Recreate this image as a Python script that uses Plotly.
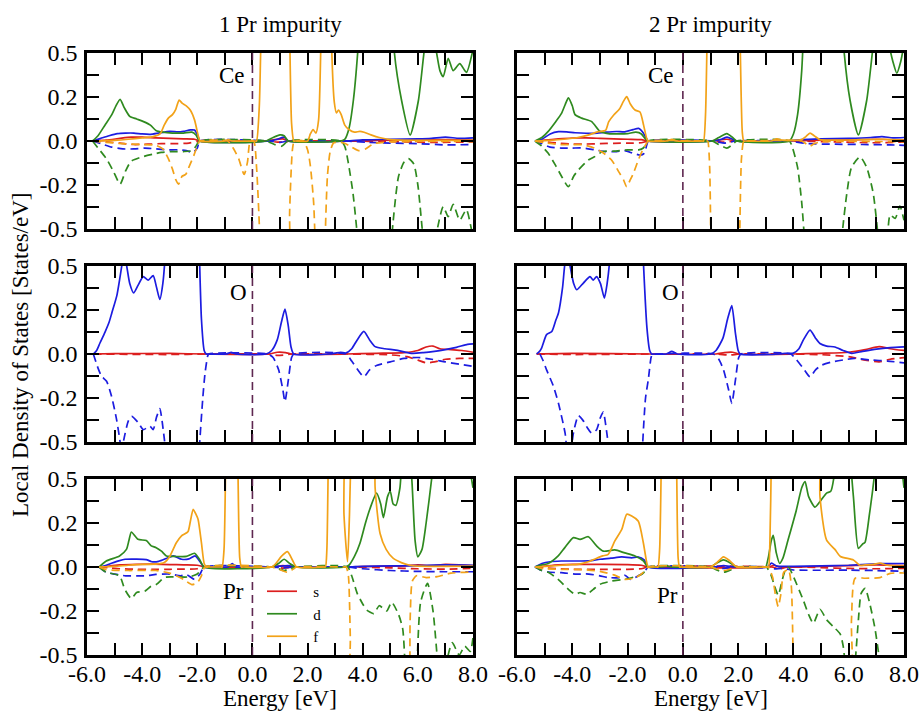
import plotly.graph_objects as go

# ---------------- data: (energy [eV], LDOS [states/eV]) ----------------
# Panel A: Ce, 1 Pr impurity
A_s_up = [(-5.8,0),(-5.3,0.005),(-4.8,0.015),(-4.4,0.022),(-4.0,0.022),(-3.5,0.018),(-3.0,0.015),(-2.5,0.012),(-2.1,0.01),(-1.9,0),(0.5,0),(0.8,0.008),(1.1,0.012),(1.3,0),(3.5,0),(4.5,0.004),(6,0.005),(7,0.008),(8,0.005)]
A_s_dn = [(-5.8,0),(-5.3,-0.005),(-4.8,-0.012),(-4.3,-0.02),(-3.8,-0.018),(-3.3,-0.015),(-2.8,-0.015),(-2.3,-0.012),(-1.9,0),(0.5,0),(0.9,-0.006),(1.2,-0.005),(1.35,0),(3.5,0),(5,-0.004),(6.5,-0.008),(8,-0.005)]
A_p_up = [(-5.8,0),(-5.5,0.015),(-5.2,0.03),(-4.9,0.042),(-4.6,0.045),(-4.3,0.045),(-4.0,0.04),(-3.7,0.038),(-3.4,0.045),(-3.0,0.055),(-2.7,0.052),(-2.5,0.055),(-2.25,0.063),(-2.1,0.062),(-1.98,0.03),(-1.9,0),(0.6,0),(0.9,0.01),(1.15,0.022),(1.3,0),(3.4,0),(4.0,0.006),(5.0,0.01),(6.0,0.012),(6.5,0.015),(7.0,0.022),(7.5,0.015),(8.0,0.018)]
A_p_dn = [(-5.8,0),(-5.5,-0.015),(-5.1,-0.035),(-4.7,-0.045),(-4.3,-0.045),(-3.9,-0.04),(-3.5,-0.045),(-3.1,-0.05),(-2.7,-0.05),(-2.4,-0.055),(-2.15,-0.065),(-2.0,-0.04),(-1.9,0),(0.6,0),(1.0,-0.008),(1.3,0),(3.4,0),(4.2,-0.008),(5.0,-0.012),(6.0,-0.015),(7.0,-0.022),(8.0,-0.02)]
A_d_up = [(-5.8,0),(-5.6,0.03),(-5.35,0.09),(-5.1,0.15),(-4.95,0.2),(-4.8,0.237),(-4.65,0.19),(-4.45,0.14),(-4.2,0.125),(-3.95,0.11),(-3.7,0.09),(-3.5,0.06),(-3.25,0.05),(-2.9,0.045),(-2.5,0.045),(-2.2,0.05),(-2.05,0.035),(-1.92,0),(0.5,0),(0.75,0.02),(1.0,0.035),(1.15,0.03),(1.3,0),(3.2,0),(3.35,0.01),(3.5,0.07),(3.66,0.23),(3.84,0.55),(4.0,1.0),(5.0,1.0),(5.15,0.5),(5.41,0.23),(5.72,0.034),(6.02,0.23),(6.26,0.55),(6.45,0.7),(6.68,0.5),(6.8,0.4),(6.92,0.365),(7.1,0.47),(7.28,0.40),(7.52,0.44),(7.76,0.39),(8.0,0.52)]
A_d_dn = [(-5.8,0),(-5.6,-0.04),(-5.3,-0.1),(-5.05,-0.17),(-4.8,-0.245),(-4.6,-0.17),(-4.4,-0.115),(-4.0,-0.09),(-3.6,-0.075),(-3.3,-0.065),(-2.9,-0.06),(-2.5,-0.06),(-2.2,-0.055),(-2.05,-0.03),(-1.92,0),(0.5,0),(0.8,-0.02),(1.05,-0.03),(1.3,0),(3.2,0),(3.35,-0.03),(3.48,-0.127),(3.65,-0.3),(3.84,-0.6),(4.0,-1.0),(4.9,-1.0),(5.05,-0.55),(5.3,-0.2),(5.5,-0.12),(5.66,-0.1),(5.85,-0.13),(6.0,-0.25),(6.19,-0.55),(6.4,-0.8),(6.68,-0.52),(6.92,-0.373),(7.1,-0.43),(7.28,-0.36),(7.52,-0.45),(7.76,-0.39),(7.94,-0.5),(8.0,-0.55)]
A_f_up = [(-5.8,0),(-5.0,0.004),(-4.5,0.01),(-4.0,0.018),(-3.6,0.025),(-3.35,0.04),(-3.2,0.09),(-3.05,0.13),(-2.9,0.15),(-2.78,0.18),(-2.66,0.233),(-2.55,0.215),(-2.4,0.2),(-2.25,0.175),(-2.1,0.12),(-1.95,0.02),(-1.9,0),(-1.0,0),(-0.87,0.008),(-0.75,0),(0.1,0),(0.15,0),(0.25,0.2),(0.35,0.9),(0.5,1.5),(1.2,1.5),(1.33,0.8),(1.42,0.1),(1.5,0),(1.55,0),(2.0,0),(2.1,0.04),(2.2,0.065),(2.3,0.045),(2.4,0.12),(2.5,0.7),(2.6,1.5),(2.78,1.5),(2.88,0.5),(2.97,0.22),(3.05,0.16),(3.12,0.175),(3.22,0.15),(3.35,0.09),(3.5,0.065),(3.7,0.05),(3.9,0.055),(4.05,0.05),(4.3,0.035),(4.6,0.02),(5.0,0.008),(6,0.004),(8,0.003)]
A_f_dn = [(-5.8,0),(-5.3,-0.008),(-4.7,-0.015),(-4.0,-0.02),(-3.5,-0.025),(-3.25,-0.045),(-3.05,-0.1),(-2.9,-0.16),(-2.78,-0.22),(-2.68,-0.245),(-2.55,-0.2),(-2.42,-0.19),(-2.28,-0.14),(-2.12,-0.08),(-1.95,-0.01),(-1.9,0),(-0.9,0),(-0.7,-0.04),(-0.5,-0.1),(-0.3,-0.19),(-0.18,-0.12),(-0.08,0),(0.05,0),(0.15,-0.15),(0.28,-0.6),(0.4,-1.5),(1.25,-1.5),(1.35,-0.4),(1.45,-0.05),(1.52,0),(1.85,0),(2.0,-0.05),(2.1,-0.14),(2.22,-0.35),(2.3,-0.7),(2.4,-1.2),(2.55,-1.2),(2.63,-0.6),(2.72,-0.2),(2.82,-0.06),(2.95,-0.01),(3.3,-0.01),(3.6,-0.035),(3.85,-0.055),(4.1,-0.045),(4.4,-0.015),(5,-0.005),(8,-0.003)]

# Panel B: Ce, 2 Pr impurity
B_s_up = [(-5.35,0),(-5.0,0.005),(-4.5,0.012),(-4.0,0.017),(-3.5,0.018),(-3.0,0.015),(-2.5,0.012),(-2.0,0.01),(-1.5,0.008),(-1.25,0),(1.0,0),(1.3,0.006),(1.6,0.01),(1.9,0),(4.0,0),(5,0.005),(6,0.006),(7,0.01),(8,0.006)]
B_s_dn = [(-5.35,0),(-5.0,-0.005),(-4.5,-0.012),(-4.0,-0.017),(-3.5,-0.017),(-3.0,-0.015),(-2.5,-0.013),(-2.0,-0.012),(-1.5,-0.01),(-1.25,0),(1.0,0),(1.5,-0.006),(1.9,0),(4.0,0),(5.5,-0.005),(7,-0.01),(8,-0.006)]
B_p_up = [(-5.35,0),(-5.1,0.01),(-4.8,0.04),(-4.5,0.053),(-4.2,0.052),(-3.9,0.047),(-3.5,0.044),(-3.1,0.045),(-2.8,0.05),(-2.4,0.054),(-2.1,0.052),(-1.8,0.065),(-1.6,0.072),(-1.45,0.05),(-1.3,0.01),(-1.25,0),(1.1,0),(1.4,0.01),(1.6,0.022),(1.8,0.01),(1.95,0),(3.8,0),(4.3,0.008),(5,0.012),(6,0.015),(6.8,0.02),(7.2,0.025),(7.6,0.018),(8.0,0.02)]
B_p_dn = [(-5.35,0),(-5.1,-0.015),(-4.8,-0.035),(-4.4,-0.04),(-4.0,-0.04),(-3.6,-0.04),(-3.2,-0.05),(-2.8,-0.06),(-2.4,-0.06),(-2.1,-0.055),(-1.8,-0.07),(-1.55,-0.08),(-1.4,-0.07),(-1.3,-0.02),(-1.25,0),(1.1,0),(1.5,-0.012),(1.9,0),(3.8,0),(4.5,-0.015),(5.5,-0.018),(6.5,-0.02),(7.5,-0.022),(8,-0.025)]
B_d_up = [(-5.35,0),(-5.1,0.02),(-4.87,0.055),(-4.6,0.11),(-4.39,0.157),(-4.25,0.21),(-4.14,0.245),(-4.0,0.2),(-3.9,0.15),(-3.66,0.13),(-3.3,0.11),(-3.0,0.055),(-2.7,0.042),(-2.3,0.04),(-2.0,0.042),(-1.7,0.05),(-1.5,0.04),(-1.35,0.01),(-1.25,0),(1.05,0),(1.3,0.02),(1.59,0.042),(1.8,0.02),(1.95,0),(3.85,0),(4.0,0.04),(4.15,0.15),(4.3,0.4),(4.42,0.8),(4.6,1.2),(5.6,1.2),(5.81,0.55),(6.05,0.23),(6.35,0.035),(6.65,0.23),(6.89,0.55),(7.1,0.8),(7.45,0.55),(7.6,0.45),(7.74,0.385),(7.88,0.45),(8.0,0.55)]
B_d_dn = [(-5.35,0),(-5.1,-0.03),(-4.87,-0.07),(-4.6,-0.14),(-4.39,-0.2),(-4.14,-0.26),(-3.95,-0.2),(-3.78,-0.165),(-3.42,-0.108),(-3.2,-0.09),(-2.9,-0.06),(-2.5,-0.058),(-2.0,-0.05),(-1.6,-0.05),(-1.43,-0.04),(-1.25,0),(1.05,0),(1.3,-0.02),(1.59,-0.04),(1.8,-0.02),(1.95,0),(3.85,0),(3.97,-0.04),(4.15,-0.15),(4.3,-0.35),(4.42,-0.6),(4.6,-1.0),(5.55,-1.0),(5.75,-0.55),(5.93,-0.3),(6.1,-0.15),(6.41,-0.09),(6.65,-0.15),(6.89,-0.3),(7.07,-0.55),(7.25,-0.8),(7.4,-0.55),(7.5,-0.42),(7.68,-0.44),(7.85,-0.37),(8.0,-0.45)]
B_f_up = [(-5.35,0),(-4.8,0.004),(-4.3,0.01),(-3.8,0.02),(-3.4,0.035),(-3.06,0.053),(-2.8,0.06),(-2.68,0.11),(-2.5,0.148),(-2.3,0.18),(-2.15,0.225),(-2.03,0.252),(-1.9,0.21),(-1.73,0.176),(-1.55,0.165),(-1.42,0.09),(-1.3,0.01),(-1.25,0),(-0.6,0),(-0.4,0.01),(-0.25,0),(0.7,0),(0.75,0),(0.82,0.15),(0.9,0.8),(1.0,1.5),(2.0,1.5),(2.08,0.5),(2.15,0.05),(2.2,0),(2.25,0),(3.2,0),(3.4,0.012),(3.6,0.005),(4.3,0.008),(4.45,0.025),(4.6,0.045),(4.75,0.03),(4.95,0.008),(5.5,0.005),(6.5,0.008),(7.2,0.01),(8,0.005)]
B_f_dn = [(-5.35,0),(-5.0,-0.01),(-4.5,-0.02),(-4.0,-0.02),(-3.6,-0.022),(-3.2,-0.04),(-2.9,-0.065),(-2.58,-0.108),(-2.3,-0.18),(-2.15,-0.22),(-2.03,-0.26),(-1.9,-0.22),(-1.78,-0.18),(-1.61,-0.108),(-1.45,-0.05),(-1.3,-0.01),(-1.25,0),(0.85,0),(0.9,0),(0.97,-0.15),(1.02,-0.7),(1.1,-1.5),(1.95,-1.5),(2.05,-0.6),(2.12,-0.1),(2.2,0),(2.25,0),(4.3,0),(4.45,-0.015),(4.6,-0.03),(4.75,-0.015),(5.0,-0.005),(8,-0.004)]

# Panel C: O, 1 Pr impurity
C_s_up = [(-5.77,0),(-5,0.002),(-3,0.003),(-1.7,0),(0.6,0),(0.9,0.01),(1.2,0.008),(1.4,0),(3.4,0),(4.5,0.004),(5.5,0.008),(6.0,0.02),(6.3,0.04),(6.55,0.045),(6.8,0.03),(7.2,0.025),(7.6,0.02),(8.0,0.01)]
C_s_dn = [(-5.77,0),(-3,-0.003),(-1.7,0),(0.6,0),(0.9,-0.008),(1.2,-0.005),(1.4,0),(3.4,0),(5.0,-0.005),(5.6,-0.015),(6.0,-0.035),(6.3,-0.05),(6.6,-0.045),(7.0,-0.03),(7.5,-0.025),(8.0,-0.025)]
C_p_up = [(-5.77,0),(-5.65,0.02),(-5.53,0.0625),(-5.35,0.123),(-5.2,0.18),(-5.1,0.233),(-4.92,0.33),(-4.8,0.44),(-4.74,0.5),(-4.66,0.58),(-4.56,0.5),(-4.45,0.4),(-4.31,0.347),(-4.15,0.39),(-3.96,0.44),(-3.78,0.42),(-3.6,0.445),(-3.48,0.38),(-3.36,0.31),(-3.25,0.4),(-3.15,0.6),(-3.0,1.2),(-2.1,1.2),(-1.95,0.7),(-1.85,0.2),(-1.75,0.02),(-1.68,0),(-1.6,0),(-0.95,0),(-0.77,0.01),(-0.6,0),(0.5,0),(0.7,0.02),(0.9,0.08),(1.05,0.18),(1.18,0.255),(1.3,0.16),(1.4,0.04),(1.5,0),(2.8,0),(3.0,0.005),(3.2,0.01),(3.38,0.005),(3.6,0.03),(3.8,0.08),(4.04,0.128),(4.25,0.08),(4.45,0.042),(4.8,0.03),(5.2,0.022),(5.5,0.012),(5.8,0.004),(6.2,0.008),(6.6,0.015),(7.0,0.025),(7.4,0.038),(7.8,0.055),(8.0,0.058)]
C_p_dn = [(-5.77,0),(-5.6,-0.08),(-5.47,-0.127),(-5.29,-0.155),(-5.11,-0.24),(-4.93,-0.37),(-4.8,-0.5),(-4.74,-0.6),(-4.68,-0.5),(-4.5,-0.38),(-4.38,-0.354),(-4.14,-0.39),(-3.96,-0.43),(-3.72,-0.41),(-3.6,-0.43),(-3.48,-0.36),(-3.36,-0.31),(-3.22,-0.45),(-3.12,-0.6),(-2.9,-1.2),(-2.1,-1.2),(-1.95,-0.6),(-1.8,-0.25),(-1.72,-0.11),(-1.62,-0.01),(-1.58,0),(0.55,0),(0.75,-0.02),(0.95,-0.09),(1.1,-0.2),(1.18,-0.27),(1.3,-0.15),(1.42,-0.02),(1.5,0),(3.38,0),(3.6,-0.04),(3.8,-0.085),(4.04,-0.129),(4.25,-0.09),(4.5,-0.065),(5.0,-0.045),(5.5,-0.025),(6.0,-0.02),(6.5,-0.03),(7.0,-0.045),(7.5,-0.058),(8.0,-0.07)]

# Panel D: O, 2 Pr impurity
D_s_up = [(-5.29,0),(-4,0.003),(-1.2,0),(1.2,0),(1.5,0.008),(1.8,0.01),(2.05,0),(4.0,0),(5.0,0.004),(6.0,0.01),(6.6,0.025),(7.1,0.042),(7.5,0.03),(8.0,0.02)]
D_s_dn = [(-5.29,0),(-4,-0.003),(-1.2,0),(1.2,0),(1.7,-0.006),(2.05,0),(4.0,0),(5.0,-0.004),(6.0,-0.015),(6.6,-0.035),(7.1,-0.045),(7.5,-0.03),(8.0,-0.02)]
D_p_up = [(-5.29,0),(-5.2,0.012),(-5.11,0.034),(-4.93,0.11),(-4.74,0.128),(-4.6,0.19),(-4.5,0.233),(-4.35,0.38),(-4.26,0.52),(-4.17,0.56),(-4.08,0.5),(-3.95,0.4),(-3.84,0.365),(-3.6,0.403),(-3.36,0.44),(-3.24,0.42),(-3.12,0.44),(-2.98,0.4),(-2.84,0.318),(-2.74,0.4),(-2.64,0.55),(-2.5,1.2),(-1.6,1.2),(-1.45,0.6),(-1.3,0.15),(-1.2,0.02),(-1.13,0),(-1.05,0),(-0.6,0),(-0.4,0.015),(-0.2,0),(1.0,0),(1.2,0.02),(1.45,0.09),(1.62,0.2),(1.77,0.275),(1.9,0.12),(2.0,0.02),(2.07,0),(3.5,0),(3.7,0.004),(4.0,0.005),(4.2,0.03),(4.36,0.08),(4.6,0.136),(4.8,0.09),(4.96,0.06),(5.2,0.045),(5.5,0.04),(5.8,0.02),(6.11,0.004),(6.5,0.015),(7.0,0.028),(7.5,0.036),(8.0,0.04)]
D_p_dn = [(-5.17,0),(-5.05,-0.04),(-4.93,-0.09),(-4.69,-0.18),(-4.5,-0.28),(-4.26,-0.45),(-4.15,-0.6),(-4.05,-0.55),(-3.96,-0.45),(-3.78,-0.35),(-3.6,-0.38),(-3.45,-0.42),(-3.3,-0.45),(-3.12,-0.43),(-2.98,-0.36),(-2.88,-0.33),(-2.75,-0.45),(-2.64,-0.6),(-2.5,-1.2),(-1.6,-1.2),(-1.45,-0.5),(-1.35,-0.25),(-1.25,-0.146),(-1.15,-0.02),(-1.1,0),(-1.0,0),(1.1,0),(1.3,-0.03),(1.47,-0.09),(1.65,-0.2),(1.77,-0.28),(1.9,-0.15),(2.02,-0.02),(2.1,0),(3.9,0),(4.1,-0.03),(4.35,-0.08),(4.6,-0.13),(4.8,-0.09),(5.0,-0.065),(5.4,-0.045),(5.8,-0.034),(6.2,-0.025),(6.8,-0.034),(7.4,-0.04),(8.0,-0.05)]

# Panel E: Pr, 1 Pr impurity
E_s_up = [(-5.56,0),(-5.2,0.005),(-4.8,0.012),(-4.2,0.015),(-3.6,0.016),(-3.0,0.014),(-2.5,0.012),(-2.0,0.01),(-1.7,0),(0.7,0),(1.1,0.008),(1.6,0),(3.4,0),(4.5,0.004),(5.5,0.006),(6.0,0.012),(6.5,0.008),(7,0.015),(8,0.008)]
E_s_dn = [(-5.56,0),(-5.2,-0.005),(-4.8,-0.01),(-4.2,-0.013),(-3.6,-0.014),(-3.0,-0.013),(-2.5,-0.012),(-2.0,-0.01),(-1.7,0),(0.7,0),(1.1,-0.006),(1.6,0),(3.4,0),(5,-0.005),(6,-0.01),(7,-0.012),(8,-0.008)]
E_p_up = [(-5.56,0),(-5.3,0.01),(-5.11,0.021),(-4.85,0.035),(-4.62,0.044),(-4.2,0.045),(-3.85,0.042),(-3.65,0.03),(-3.4,0.032),(-3.1,0.05),(-2.87,0.063),(-2.57,0.044),(-2.3,0.046),(-2.08,0.063),(-1.9,0.03),(-1.75,0),(-0.9,0),(-0.73,0.02),(-0.6,0),(0.7,0),(1.0,0.005),(1.3,0.008),(1.6,0),(3.4,0),(4.0,0.004),(5,0.006),(6,0.008),(7,0.012),(8,0.01)]
E_p_dn = [(-5.56,0),(-5.3,-0.03),(-5.0,-0.04),(-4.6,-0.05),(-4.2,-0.05),(-3.85,-0.05),(-3.5,-0.042),(-3.0,-0.04),(-2.6,-0.05),(-2.4,-0.042),(-2.1,-0.07),(-1.9,-0.04),(-1.75,0),(0.7,0),(1.1,-0.005),(1.6,0),(3.4,0),(4.0,-0.01),(5,-0.02),(6,-0.025),(7,-0.027),(8,-0.027)]
E_d_up = [(-5.56,0),(-5.3,0.034),(-4.82,0.063),(-4.57,0.1),(-4.48,0.15),(-4.39,0.199),(-4.15,0.157),(-3.85,0.15),(-3.67,0.12),(-3.49,0.11),(-3.3,0.09),(-3.12,0.063),(-2.8,0.06),(-2.4,0.06),(-2.1,0.078),(-1.92,0.044),(-1.75,0),(0.7,0),(0.95,0.02),(1.15,0.044),(1.35,0.02),(1.6,0),(3.35,0),(3.5,0.01),(3.7,0.06),(3.9,0.135),(4.1,0.25),(4.26,0.33),(4.5,0.42),(4.65,0.36),(4.75,0.28),(4.9,0.4),(5.0,0.43),(5.1,0.36),(5.2,0.35),(5.35,0.45),(5.5,0.7),(5.65,0.7),(5.78,0.5),(5.9,0.15),(6.0,0.058),(6.15,0.1),(6.3,0.25),(6.5,0.5),(6.7,0.8),(7.0,1.0),(7.6,1.0),(7.85,0.6),(8.0,0.45)]
E_d_dn = [(-5.56,0),(-5.3,-0.03),(-4.82,-0.05),(-4.63,-0.127),(-4.39,-0.18),(-4.2,-0.145),(-3.9,-0.137),(-3.67,-0.108),(-3.49,-0.1),(-3.2,-0.06),(-2.9,-0.056),(-2.3,-0.056),(-2.0,-0.04),(-1.75,0),(0.7,0),(0.95,-0.01),(1.15,-0.02),(1.35,-0.01),(1.6,0),(3.45,0),(3.6,-0.05),(3.8,-0.15),(4.0,-0.21),(4.15,-0.245),(4.4,-0.265),(4.6,-0.22),(4.87,-0.25),(5.05,-0.2),(5.3,-0.27),(5.45,-0.35),(5.55,-0.6),(5.7,-1.0),(5.95,-0.6),(6.1,-0.2),(6.35,-0.093),(6.55,-0.25),(6.75,-0.6),(6.9,-0.8),(7.1,-0.5),(7.25,-0.43),(7.5,-0.5),(7.7,-0.45),(7.9,-0.48),(8.0,-0.4)]
E_f_up = [(-5.56,0),(-5.0,0.003),(-4.5,0.01),(-4.0,0.015),(-3.5,0.016),(-3.2,0.025),(-3.0,0.06),(-2.76,0.138),(-2.58,0.176),(-2.34,0.2),(-2.25,0.26),(-2.15,0.328),(-2.05,0.3),(-1.97,0.27),(-1.85,0.138),(-1.75,0.02),(-1.67,0),(-1.6,0),(-1.15,0),(-1.1,0),(-1.03,0.1),(-0.97,0.6),(-0.9,1.5),(-0.58,1.5),(-0.52,0.5),(-0.46,0.05),(-0.4,0),(-0.35,0),(0.7,0),(0.85,0.02),(1.05,0.06),(1.27,0.087),(1.45,0.04),(1.6,0),(2.6,0),(2.65,0),(2.7,0.1),(2.75,0.6),(2.8,1.5),(3.22,1.5),(3.32,0.3),(3.45,0.03),(3.52,0.3),(3.58,0.7),(3.7,1.5),(4.35,1.5),(4.45,0.45),(4.63,0.19),(4.85,0.1),(5.1,0.05),(5.4,0.025),(5.7,0.01),(6,0.005),(8,0.005)]
E_f_dn = [(-5.56,0),(-5.3,-0.015),(-4.5,-0.02),(-3.5,-0.02),(-3.0,-0.035),(-2.76,-0.05),(-2.5,-0.07),(-2.2,-0.1),(-2.0,-0.09),(-1.85,-0.05),(-1.72,0),(0.7,0),(1.0,-0.015),(1.27,-0.03),(1.5,-0.01),(1.6,0),(3.3,0),(3.4,0),(3.48,-0.05),(3.55,-0.4),(3.65,-1.2),(5.5,-1.2),(5.62,-1.2),(5.72,-0.3),(5.8,-0.08),(5.95,-0.05),(6.3,-0.06),(6.7,-0.055),(7.2,-0.035),(8.0,-0.028)]

# Panel F: Pr, 2 Pr impurity
F_s_up = [(-5.35,0),(-5.0,0.005),(-4.5,0.012),(-4.0,0.015),(-3.0,0.015),(-2.0,0.014),(-1.5,0.01),(-1.25,0),(3.1,0),(3.3,0.01),(3.5,0),(5,0.004),(6,0.008),(7,0.012),(8,0.008)]
F_s_dn = [(-5.35,0),(-5.0,-0.005),(-4.5,-0.01),(-4.0,-0.013),(-3.0,-0.013),(-2.0,-0.013),(-1.5,-0.01),(-1.25,0),(3.2,0),(3.5,-0.01),(3.8,0),(5,-0.004),(6,-0.008),(7,-0.01),(8,-0.008)]
F_p_up = [(-5.35,0),(-5.1,0.02),(-4.8,0.03),(-4.4,0.034),(-3.9,0.034),(-3.4,0.035),(-3.0,0.044),(-2.6,0.05),(-2.21,0.057),(-1.85,0.052),(-1.61,0.057),(-1.4,0.04),(-1.25,0),(1.1,0),(1.47,0.008),(1.9,0),(3.05,0),(3.21,0.022),(3.4,0.005),(4.0,0.004),(5,0.006),(6,0.01),(7.0,0.018),(7.5,0.02),(8.0,0.02)]
F_p_dn = [(-5.35,0),(-5.1,-0.02),(-4.8,-0.03),(-4.4,-0.032),(-3.9,-0.04),(-3.4,-0.04),(-3.0,-0.05),(-2.7,-0.06),(-2.3,-0.06),(-2.1,-0.047),(-1.9,-0.07),(-1.61,-0.05),(-1.4,-0.03),(-1.25,0),(1.1,0),(1.47,-0.008),(1.9,0),(3.05,0),(3.3,-0.01),(3.6,-0.008),(4.0,-0.017),(6,-0.018),(7,-0.02),(8,-0.025)]
F_d_up = [(-5.35,0),(-5.1,0.012),(-4.87,0.02),(-4.51,0.063),(-4.27,0.11),(-3.96,0.167),(-3.72,0.157),(-3.42,0.172),(-3.12,0.12),(-2.88,0.09),(-2.46,0.097),(-2.1,0.08),(-1.73,0.063),(-1.43,0.035),(-1.3,0.005),(-1.25,0),(-0.8,0),(-0.6,0.005),(-0.4,0),(1.0,0),(1.2,0.02),(1.47,0.04),(1.75,0.02),(1.95,0),(2.95,0),(3.0,0),(3.1,0.06),(3.2,0.15),(3.27,0.18),(3.38,0.08),(3.5,0.02),(3.62,0.05),(3.8,0.15),(4.1,0.32),(4.3,0.45),(4.42,0.485),(4.55,0.4),(4.78,0.34),(5.0,0.38),(5.2,0.42),(5.35,0.43),(5.5,0.55),(5.7,1.0),(6.0,0.7),(6.17,0.4),(6.35,0.106),(6.5,0.13),(6.59,0.14),(6.75,0.3),(6.95,0.55),(7.2,1.0),(7.75,1.0),(7.9,0.6),(8.0,0.45)]
F_d_dn = [(-5.35,0),(-5.1,-0.02),(-4.87,-0.03),(-4.51,-0.07),(-4.14,-0.127),(-3.9,-0.155),(-3.72,-0.145),(-3.48,-0.155),(-3.24,-0.127),(-3.0,-0.098),(-2.58,-0.08),(-2.1,-0.07),(-1.61,-0.05),(-1.43,-0.035),(-1.25,0),(1.0,0),(1.2,-0.015),(1.47,-0.03),(1.75,-0.015),(1.95,0),(2.98,0),(3.03,0),(3.2,-0.05),(3.3,-0.1),(3.45,-0.16),(3.6,-0.07),(3.7,-0.02),(3.82,0),(4.0,-0.055),(4.36,-0.19),(4.55,-0.27),(4.72,-0.32),(4.96,-0.24),(5.2,-0.3),(5.45,-0.34),(5.69,-0.38),(5.8,-0.45),(5.87,-0.55),(6.0,-0.8),(6.2,-0.6),(6.35,-0.3),(6.45,-0.15),(6.59,-0.121),(6.75,-0.2),(6.95,-0.35),(7.13,-0.55),(7.4,-1.0),(8.0,-1.0)]
F_f_up = [(-5.35,0),(-4.8,0.005),(-4.2,0.012),(-3.8,0.015),(-3.42,0.03),(-3.2,0.044),(-2.9,0.063),(-2.7,0.072),(-2.46,0.148),(-2.21,0.214),(-2.03,0.3),(-1.85,0.29),(-1.61,0.26),(-1.43,0.138),(-1.3,0.02),(-1.25,0),(-1.2,0),(-0.95,0),(-0.9,0),(-0.84,0.1),(-0.78,0.6),(-0.72,1.5),(-0.28,1.5),(-0.22,0.5),(-0.17,0.05),(-0.12,0),(-0.07,0),(1.0,0),(1.2,0.02),(1.47,0.058),(1.7,0.035),(1.95,0),(3.05,0),(3.1,0),(3.15,0.15),(3.2,0.6),(3.28,1.5),(4.85,1.5),(4.96,0.4),(5.2,0.153),(5.5,0.1),(5.7,0.06),(6.17,0.04),(6.4,0.01),(6.6,0.012),(6.9,0.015),(7.13,0.022),(7.4,0.01),(8.0,0.005)]
F_f_dn = [(-5.35,0),(-5.0,-0.01),(-4.4,-0.013),(-3.6,-0.015),(-3.0,-0.025),(-2.5,-0.045),(-2.1,-0.07),(-1.7,-0.06),(-1.43,-0.03),(-1.25,0),(1.0,0),(1.2,-0.01),(1.47,-0.02),(1.75,-0.01),(1.95,0),(3.05,0),(3.1,0),(3.25,-0.06),(3.35,-0.16),(3.45,-0.225),(3.55,-0.15),(3.65,-0.03),(3.82,-0.015),(3.92,-0.1),(4.0,-0.6),(4.1,-1.2),(6.0,-1.2),(6.1,-0.3),(6.23,-0.064),(6.6,-0.064),(7.13,-0.06),(7.5,-0.036),(8.0,-0.034)]

# panel meta
PANEL_LABELS = ["Ce", "Ce", "O", "O", "Pr", "Pr"]
LABEL_POS = [(-0.75, 0.37), (-0.79, 0.37), (-0.5, 0.35), (-0.46, 0.35), (-0.67, -0.14), (-0.54, -0.16)]
COLUMN_TITLES = ["1 Pr impurity", "2 Pr impurity"]
X_TICKS = [-6, -5, -4, -3, -2, -1, 0, 1, 2, 3, 4, 5, 6, 7, 8]
X_TICKTEXT = ["-6.0", "", "-4.0", "", "-2.0", "", "0.0", "", "2.0", "", "4.0", "", "6.0", "", "8.0"]
Y_TICKS = [-0.5, -0.375, -0.25, -0.125, 0.0, 0.125, 0.25, 0.375, 0.5]
Y_TICKTEXT = ["-0.5", "", "-0.2", "", "0.0", "", "0.2", "", "0.5"]
FERMI = 0.0
ORBITALS = ["s", "p", "d", "f"]
LEGEND_ORBITALS = ["s", "d", "f"]

panels = {
    "A": {"s": (A_s_up, A_s_dn), "p": (A_p_up, A_p_dn), "d": (A_d_up, A_d_dn), "f": (A_f_up, A_f_dn)},
    "B": {"s": (B_s_up, B_s_dn), "p": (B_p_up, B_p_dn), "d": (B_d_up, B_d_dn), "f": (B_f_up, B_f_dn)},
    "C": {"s": (C_s_up, C_s_dn), "p": (C_p_up, C_p_dn)},
    "D": {"s": (D_s_up, D_s_dn), "p": (D_p_up, D_p_dn)},
    "E": {"s": (E_s_up, E_s_dn), "p": (E_p_up, E_p_dn), "d": (E_d_up, E_d_dn), "f": (E_f_up, E_f_dn)},
    "F": {"s": (F_s_up, F_s_dn), "p": (F_p_up, F_p_dn), "d": (F_d_up, F_d_dn), "f": (F_f_up, F_f_dn)},
}

# ---------------- style ----------------
COLORS = {"s": "#dc1e1e", "p": "#1c1ce0", "d": "#2f8a1f", "f": "#f2a218"}
FONT = "Liberation Serif, Times New Roman, serif"
W, H = 921, 711
XDOM = [[87 / W, 473 / W], [517 / W, 904 / W]]
YDOM = [[1 - 229 / H, 1 - 53 / H], [1 - 442 / H, 1 - 266 / H], [1 - 655 / H, 1 - 479 / H]]
DASH = "8px,5px"

fig = go.Figure()
layout = dict(
    width=W, height=H, autosize=False,
    margin=dict(l=0, r=0, t=0, b=0, pad=0, autoexpand=False),
    paper_bgcolor="white", plot_bgcolor="white",
    font=dict(family=FONT, size=22, color="black"),
    showlegend=True,
    legend=dict(x=262 / W, y=1 - 575 / H, xanchor="left", yanchor="top",
                bgcolor="rgba(0,0,0,0)", borderwidth=0, font=dict(size=15, family=FONT),
                tracegroupgap=0, itemwidth=30),
)

annotations = []
shapes = []
for i, key in enumerate("ABCDEF"):
    row, col = divmod(i, 2)
    n = i + 1
    xa = "x" if n == 1 else f"x{n}"
    ya = "y" if n == 1 else f"y{n}"
    for orb in ORBITALS:
        if orb not in panels[key]:
            continue
        up, dn = panels[key][orb]
        for pts, dash in ((up, "solid"), (dn, DASH)):
            show = (key == "E" and dash == "solid" and orb in LEGEND_ORBITALS)
            fig.add_trace(go.Scatter(
                x=[p[0] for p in pts], y=[p[1] for p in pts], mode="lines",
                line=dict(color=COLORS[orb], width=1.7, dash=dash, shape="spline", smoothing=0.6),
                xaxis=xa, yaxis=ya, name="\u00a0\u00a0\u00a0" + orb, showlegend=show, hoverinfo="skip"))
    common = dict(showline=True, linecolor="black", linewidth=2.5, mirror="ticks",
                  ticks="inside", ticklen=12, tickwidth=1.8, tickcolor="black",
                  showgrid=False, zeroline=False, automargin=False)
    layout["xaxis" + ("" if n == 1 else str(n))] = dict(
        common, domain=XDOM[col], anchor=ya, range=[-6, 8],
        tickvals=X_TICKS, ticktext=X_TICKTEXT, showticklabels=(row == 2),
        ticklabelstandoff=-5, tickfont=dict(size=24, family=FONT))
    layout["yaxis" + ("" if n == 1 else str(n))] = dict(
        common, domain=YDOM[row], anchor=xa, range=[-0.5, 0.5],
        tickvals=Y_TICKS, ticktext=Y_TICKTEXT, showticklabels=(col == 0),
        ticklabelstandoff=2, tickfont=dict(size=24, family=FONT))
    # Fermi level
    shapes.append(dict(type="line", xref=xa, yref=ya + " domain", x0=FERMI, x1=FERMI, y0=0, y1=1,
                       line=dict(color="#5e2750", width=1.6, dash=DASH), layer="above"))
    lx, ly = LABEL_POS[i]
    annotations.append(dict(x=lx, y=ly, xref=xa, yref=ya, text=PANEL_LABELS[i], showarrow=False,
                            xanchor="center", yanchor="middle", font=dict(size=23, family=FONT)))

for c, title in enumerate(COLUMN_TITLES):
    cx = (XDOM[c][0] + XDOM[c][1]) / 2
    annotations.append(dict(x=cx, y=1 - 25 / H, xref="paper", yref="paper", xanchor="center", yanchor="middle",
                            text=title, showarrow=False, font=dict(size=23, family=FONT)))
    annotations.append(dict(x=cx, y=1 - 698 / H, xref="paper", yref="paper", xanchor="center", yanchor="middle",
                            text="Energy [eV]", showarrow=False, font=dict(size=23, family=FONT)))
annotations.append(dict(x=20 / W, y=1 - 355 / H, xref="paper", yref="paper", textangle=-90,
                        xanchor="center", yanchor="middle",
                        text="Local Density of States [States/eV]", showarrow=False,
                        font=dict(size=23, family=FONT)))

layout["annotations"] = annotations
layout["shapes"] = shapes
fig.update_layout(**layout)
fig.write_html("out.html", config={"displayModeBar": False})

# remove the browser's default page margin so the 921x711 figure fills the window exactly
with open("out.html", "r", encoding="utf-8") as fh:
    html = fh.read()
html = html.replace("<body>", '<body style="margin:0;padding:0;overflow:hidden">', 1)
with open("out.html", "w", encoding="utf-8") as fh:
    fh.write(html)
